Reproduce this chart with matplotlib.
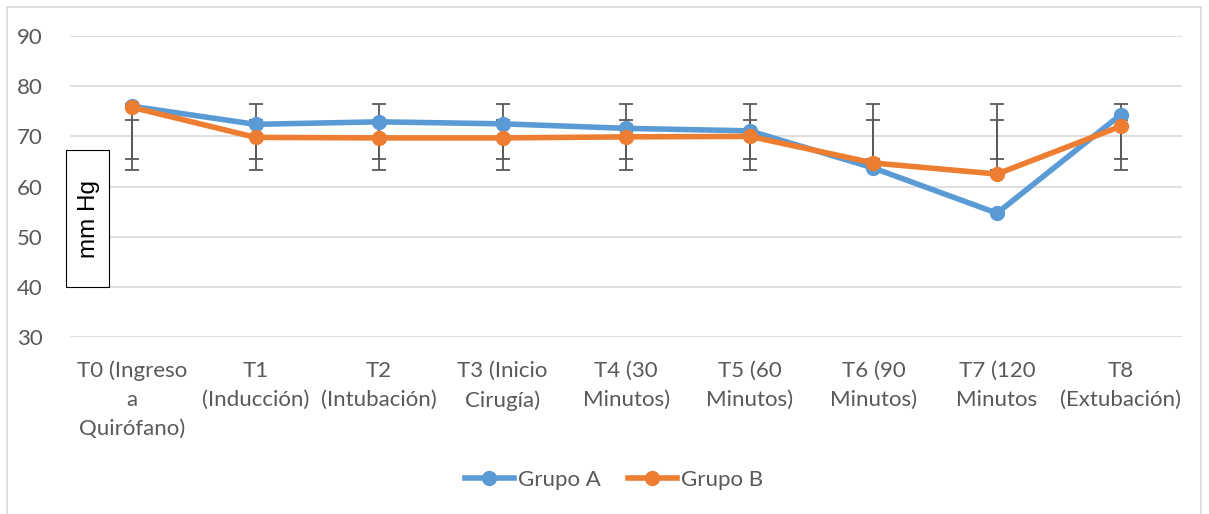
import matplotlib.pyplot as plt
from matplotlib.patches import Rectangle

categories = ['T0 (Ingreso\na\nQuirófano)', 'T1\n(Inducción)', 'T2\n(Intubación)',
              'T3 (Inicio\nCirugía)', 'T4 (30\nMinutos)', 'T5 (60\nMinutos)',
              'T6 (90\nMinutos)', 'T7 (120\nMinutos', 'T8\n(Extubación)']
grupo_a = [76.0, 72.4, 72.9, 72.5, 71.6, 71.1, 63.7, 54.7, 74.3]
grupo_b = [75.8, 69.8, 69.7, 69.7, 69.9, 70.0, 64.7, 62.5, 72.0]

# error bar ranges (same at every time point)
outer_low = [63.3] * 9
outer_high = [76.5] * 9
inner_low = [65.5] * 9
inner_high = [73.3] * 9

blue = '#5B9BD5'
orange = '#ED7D31'
grey_text = '#595959'

plt.rcParams['font.family'] = ['Lato', 'DejaVu Sans']

fig = plt.figure(figsize=(12.09, 5.14), dpi=100)
ax = fig.add_axes([0.058, 0.344, 0.92, 0.586])

x = list(range(len(categories)))

for low, high in [(outer_low, outer_high), (inner_low, inner_high)]:
    mid = [(l + h) / 2 for l, h in zip(low, high)]
    err = [(h - l) / 2 for l, h in zip(low, high)]
    ax.errorbar(x, mid, yerr=err, fmt='none', ecolor='#595959', elinewidth=1.3,
                capsize=4.7, capthick=1.3, zorder=2)

ax.plot(x, grupo_a, color=blue, lw=4, marker='o', markersize=10, label='Grupo A', zorder=3)
ax.plot(x, grupo_b, color=orange, lw=4, marker='o', markersize=10, label='Grupo B', zorder=4)

ax.set_xlim(-0.5, len(categories) - 0.5)
ax.set_ylim(30, 90)
ax.set_yticks(range(30, 91, 10))
ax.set_xticks(x)
ax.set_xticklabels(categories, fontsize=16, color=grey_text, linespacing=1.55)
ax.tick_params(axis='y', length=0, pad=20, labelsize=16, labelcolor=grey_text)
ax.tick_params(axis='x', length=0, pad=17)
ax.grid(axis='y', color='#D9D9D9', lw=1.2)
ax.set_axisbelow(True)
for s in ax.spines.values():
    s.set_visible(False)

# "mm Hg" boxed label
fig.text(89 / 1209, 1 - 219 / 514, 'mm Hg', rotation=90, ha='center', va='center',
         fontsize=17.5, color='black', family=['Liberation Sans'], zorder=10)
fig.patches.append(Rectangle((66 / 1209, 1 - 287 / 514), 43 / 1209, 137 / 514,
                             transform=fig.transFigure, facecolor='white',
                             edgecolor='black', lw=0.8, zorder=9))

# outer chart border
fig.patches.append(Rectangle((7 / 1209, -0.01), 1194 / 1209, 1 - 7 / 514 + 0.01,
                             transform=fig.transFigure, fill=False,
                             edgecolor='#D9D9D9', lw=1.2))

fig.legend(loc='center', bbox_to_anchor=(0.508, 1 - 480 / 514), ncol=2, frameon=False,
           fontsize=16, labelcolor=grey_text, handlelength=2.2, columnspacing=1.2,
           handletextpad=0.2)

fig.savefig('out.png', dpi=100)
